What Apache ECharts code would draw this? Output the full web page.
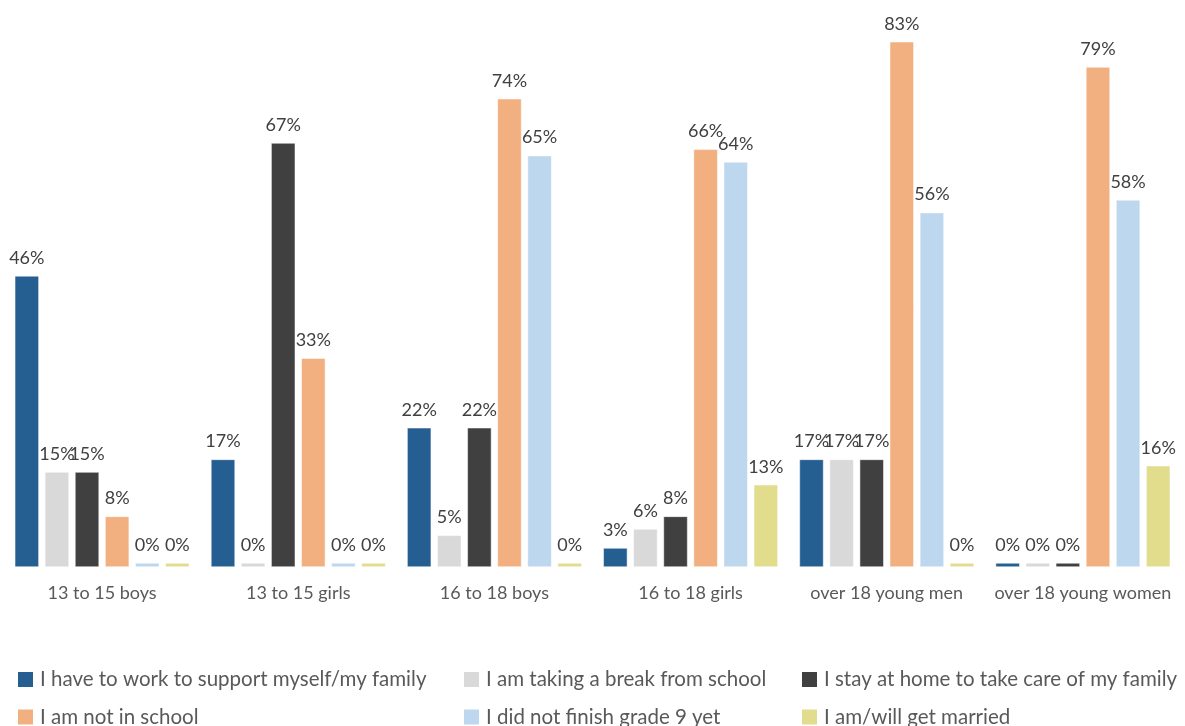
<!DOCTYPE html>
<html>
<head>
<meta charset="utf-8">
<script src="https://cdn.jsdelivr.net/npm/echarts@6/dist/echarts.min.js"></script>
<style>
html,body{margin:0;padding:0;background:#fff;}
#chart{width:1185px;height:726px;}
</style>
</head>
<body>
<div id="chart"></div>
<script>
const categories = ['13 to 15 boys', '13 to 15 girls', '16 to 18 boys', '16 to 18 girls', 'over 18 young men', 'over 18 young women'];
const seriesNames = [
  'I have to work to support myself/my family',
  'I am taking a break from school',
  'I stay at home to take care of my family',
  'I am not in school',
  'I did not finish grade 9 yet',
  'I am/will get married'
];
const workSupport = [46, 17, 22, 3, 17, 0];
const takingBreak = [15, 0, 5, 6, 17, 0];
const stayHome = [15, 67, 22, 8, 17, 0];
const notInSchool = [8, 33, 74, 66, 83, 79];
const notFinishGrade9 = [0, 0, 65, 64, 56, 58];
const getMarried = [0, 0, 0, 13, 0, 16];
const colors = ['#255E91', '#D9D9D9', '#404040', '#F2AF80', '#BDD7EE', '#E2DC8D'];
const valuesList = [workSupport, takingBreak, stayHome, notInSchool, notFinishGrade9, getMarried];

const font = 'Lato, "Open Sans", sans-serif';
const chart = echarts.init(document.getElementById('chart'));

const series = valuesList.map((vals, i) => ({
  name: seriesNames[i],
  type: 'bar',
  data: vals,
  barGap: '25%',
  barCategoryGap: '11%',
  barMinHeight: 4,
  itemStyle: { color: colors[i], borderColor: '#fff', borderWidth: 0.5 },
  label: {
    show: true,
    position: 'top',
    distance: 9,
    formatter: p => p.value + '%',
    color: '#404040',
    fontSize: 18,
    fontFamily: font
  },
  animation: false
}));

function legendCol(left, names) {
  return {
    left: left,
    top: 669,
    height: 90,
    padding: 0,
    orient: 'vertical',
    itemWidth: 17,
    itemHeight: 17,
    itemGap: 16.5,
    icon: 'rect',
    data: names,
    textStyle: { fontSize: 20.5, lineHeight: 18, color: '#595959', fontFamily: font, padding: [0, 0, 0, 1] }
  };
}

chart.setOption({
  animation: false,
  color: colors,
  grid: { left: 4, right: 4, top: 0, bottom: 159, containLabel: false },
  xAxis: {
    type: 'category',
    data: categories,
    axisLine: { show: false },
    axisTick: { show: false },
    axisLabel: { interval: 0, fontSize: 18, color: '#595959', fontFamily: font, margin: 17 }
  },
  yAxis: {
    type: 'value',
    min: 0,
    max: 89.6,
    show: false,
    splitLine: { show: false }
  },
  legend: [
    legendCol(16, [seriesNames[0], seriesNames[3]]),
    legendCol(462, [seriesNames[1], seriesNames[4]]),
    legendCol(800, [seriesNames[2], seriesNames[5]])
  ],
  series: series
});
</script>
</body>
</html>
